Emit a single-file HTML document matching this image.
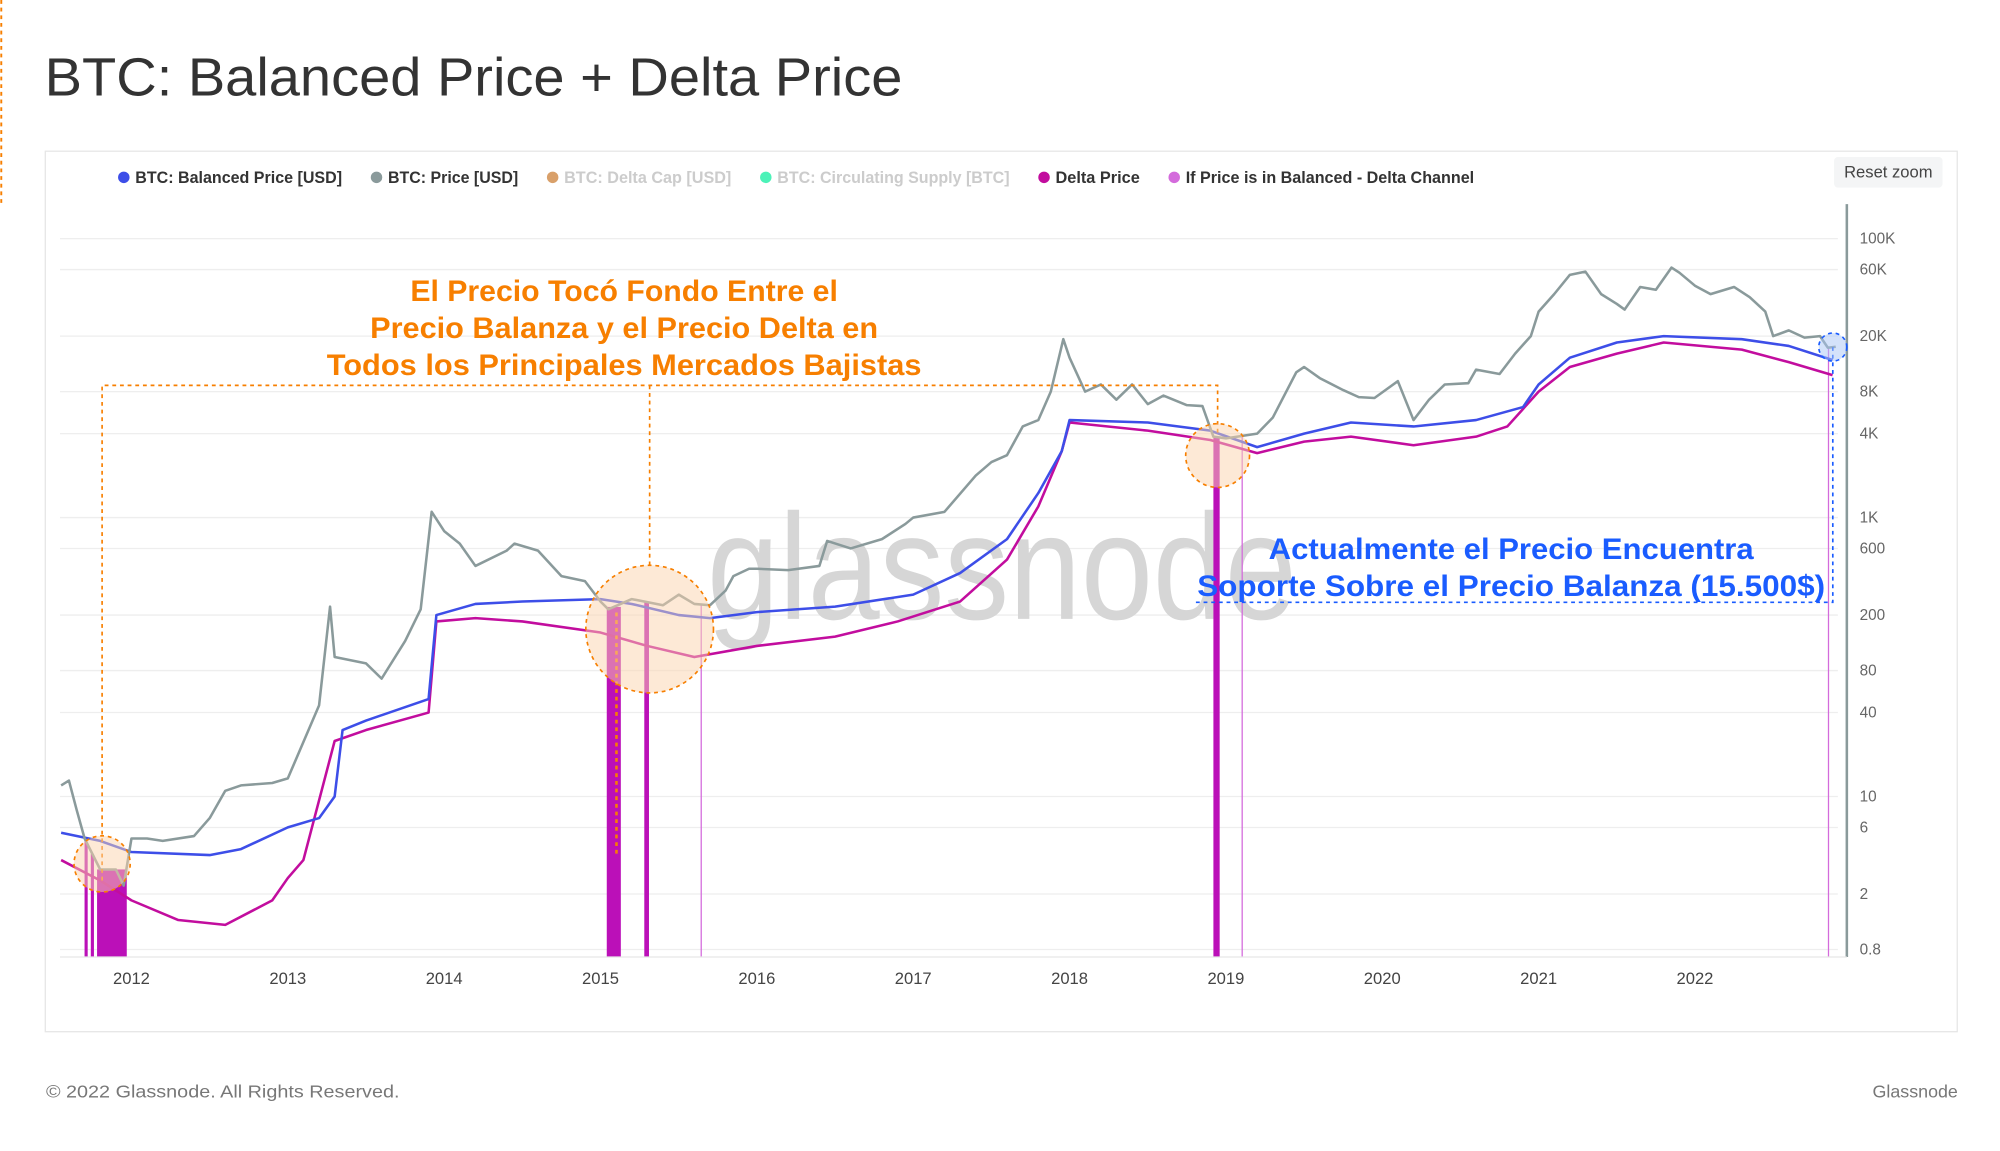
<!DOCTYPE html>
<html><head><meta charset="utf-8"><style>
html,body{margin:0;padding:0;background:#fff;}
svg{display:block;font-family:"Liberation Sans",sans-serif;}
</style></head><body>
<svg id="c" width="2000" height="1151" viewBox="0 0 1567 902" preserveAspectRatio="none" xmlns="http://www.w3.org/2000/svg">
<line x1="1" y1="0" x2="1" y2="160" stroke="#f77f00" stroke-dasharray="3,3" stroke-width="1.5"/>
<text x="35" y="75" font-size="42" fill="#333" textLength="672" lengthAdjust="spacingAndGlyphs">BTC: Balanced Price + Delta Price</text>
<rect x="35.5" y="118.5" width="1498" height="690" fill="#fff" stroke="#e6e6e6"/>
<g font-size="13" font-weight="bold">
<g><circle cx="97" cy="139" r="4.5" fill="#3d4ee8"/><text x="106" y="143.5" fill="#333" textLength="162" lengthAdjust="spacingAndGlyphs">BTC: Balanced Price [USD]</text></g>
<g><circle cx="295" cy="139" r="4.5" fill="#8a9a9b"/><text x="304" y="143.5" fill="#333" textLength="102" lengthAdjust="spacingAndGlyphs">BTC: Price [USD]</text></g>
<g><circle cx="433" cy="139" r="4.5" fill="#d9a06a"/><text x="442" y="143.5" fill="#ccc" textLength="131" lengthAdjust="spacingAndGlyphs">BTC: Delta Cap [USD]</text></g>
<g><circle cx="600" cy="139" r="4.5" fill="#4cf2b8"/><text x="609" y="143.5" fill="#ccc" textLength="182" lengthAdjust="spacingAndGlyphs">BTC: Circulating Supply [BTC]</text></g>
<g><circle cx="818" cy="139" r="4.5" fill="#c20d9e"/><text x="827" y="143.5" fill="#333" textLength="66" lengthAdjust="spacingAndGlyphs">Delta Price</text></g>
<g><circle cx="920" cy="139" r="4.5" fill="#d46bdc"/><text x="929" y="143.5" fill="#333" textLength="226" lengthAdjust="spacingAndGlyphs">If Price is in Balanced - Delta Channel</text></g>
</g>
<g><rect x="1437" y="123" width="85" height="24" rx="3" fill="#f4f5f6"/><text x="1479.5" y="139" font-size="13" fill="#444" text-anchor="middle">Reset zoom</text></g>
<g id="grid"></g>
<text x="785" y="485" font-size="118" fill="#d6d6d6" text-anchor="middle" textLength="462" lengthAdjust="spacingAndGlyphs">glassnode</text>
<g id="bars"></g>
<g id="lines"></g>
<line x1="1447" y1="160" x2="1447" y2="750" stroke="#8a9a9b" stroke-width="2"/>
<line x1="47" y1="750" x2="1447" y2="750" stroke="#e6e6e6" stroke-width="1"/>
<g id="yt" font-size="12" fill="#666"></g>
<g id="xt" font-size="13" fill="#444" text-anchor="middle"></g>
<g fill="none" stroke="#f77f00" stroke-width="1.3" stroke-dasharray="3,3">
<path d="M80,690 V302 H954 V340"/><path d="M509,302 V445"/><path d="M483,480 V670" stroke-width="2"/>
<circle cx="80" cy="677" r="22" fill="#fbd3ae" fill-opacity="0.5"/>
<circle cx="509" cy="493" r="50" fill="#fbd3ae" fill-opacity="0.5"/>
<circle cx="954" cy="357" r="25" fill="#fbd3ae" fill-opacity="0.5"/>
</g>
<g font-size="23" font-weight="bold" fill="#f77f00" text-anchor="middle">
<text x="489" y="236" textLength="335" lengthAdjust="spacingAndGlyphs">El Precio Tocó Fondo Entre el</text>
<text x="489" y="265" textLength="398" lengthAdjust="spacingAndGlyphs">Precio Balanza y el Precio Delta en</text>
<text x="489" y="294" textLength="466" lengthAdjust="spacingAndGlyphs">Todos los Principales Mercados Bajistas</text>
</g>
<g fill="none" stroke="#1a5cff" stroke-width="1.3" stroke-dasharray="3,3">
<path d="M937,472 H1436 V272"/>
<circle cx="1436" cy="272" r="11" fill="#a9c6f5" fill-opacity="0.5"/>
</g>
<g font-size="23" font-weight="bold" fill="#1a5cff" text-anchor="middle">
<text x="1184" y="438" textLength="380" lengthAdjust="spacingAndGlyphs">Actualmente el Precio Encuentra</text>
<text x="1184" y="467" textLength="492" lengthAdjust="spacingAndGlyphs">Soporte Sobre el Precio Balanza (15.500$)</text>
</g>
<text x="36" y="860" font-size="14" fill="#777" textLength="277" lengthAdjust="spacingAndGlyphs">© 2022 Glassnode. All Rights Reserved.</text>
<text x="1534" y="860" font-size="14" fill="#777" text-anchor="end">Glassnode</text>
</svg>
<script>
const priceYears=[2011.55,2011.6,2011.65,2011.7,2011.8,2011.9,2011.95,2012.0,2012.1,2012.2,2012.4,2012.5,2012.6,2012.7,2012.9,2013.0,2013.2,2013.27,2013.3,2013.5,2013.6,2013.75,2013.85,2013.92,2014.0,2014.1,2014.2,2014.4,2014.45,2014.6,2014.75,2014.9,2015.0,2015.05,2015.2,2015.4,2015.5,2015.6,2015.7,2015.8,2015.85,2015.95,2016.0,2016.2,2016.4,2016.45,2016.6,2016.8,2016.95,2017.0,2017.2,2017.4,2017.5,2017.6,2017.7,2017.8,2017.88,2017.96,2018.0,2018.1,2018.2,2018.3,2018.4,2018.5,2018.6,2018.75,2018.85,2018.92,2019.0,2019.2,2019.3,2019.45,2019.5,2019.6,2019.75,2019.85,2019.95,2020.1,2020.2,2020.3,2020.4,2020.55,2020.6,2020.75,2020.85,2020.95,2021.0,2021.1,2021.2,2021.3,2021.4,2021.5,2021.55,2021.65,2021.75,2021.85,2021.9,2022.0,2022.1,2022.25,2022.35,2022.45,2022.5,2022.6,2022.7,2022.8,2022.85,2022.9];
const priceValues=[12,13,8,5,3,3,2.3,5,5,4.8,5.2,7,11,12,12.5,13.5,45,230,100,90,70,130,220,1100,800,650,450,580,650,580,380,350,250,220,260,235,280,240,235,300,380,430,430,420,450,680,600,700,900,1000,1100,2000,2500,2800,4500,5000,8000,19000,14000,8000,9000,7000,9000,6500,7500,6400,6300,3800,3700,4000,5200,11000,12000,10000,8200,7300,7200,9500,5000,7000,9000,9200,11500,10700,15000,20000,30000,40000,55000,58000,40000,34000,31000,45000,43000,62000,57000,46000,40000,45000,38000,30000,20000,22000,19500,20000,16500,16800];
const balancedYears=[2011.55,2011.8,2012.0,2012.5,2012.7,2013.0,2013.2,2013.3,2013.35,2013.5,2013.9,2013.95,2014.2,2014.5,2015.0,2015.2,2015.5,2015.7,2016.0,2016.5,2017.0,2017.3,2017.6,2017.8,2017.95,2018.0,2018.5,2018.9,2019.2,2019.5,2019.8,2020.2,2020.6,2020.9,2021.0,2021.2,2021.5,2021.8,2022.3,2022.6,2022.88];
const balancedValues=[5.5,4.8,4,3.8,4.2,6,7,10,30,35,50,200,240,250,260,240,200,190,210,230,280,400,700,1500,3000,5000,4800,4200,3200,4000,4800,4500,5000,6200,9000,14000,18000,20000,19000,17000,13500];
const deltaYears=[2011.55,2011.8,2012.0,2012.3,2012.6,2012.9,2013.0,2013.1,2013.3,2013.5,2013.9,2013.95,2014.2,2014.5,2015.0,2015.3,2015.6,2016.0,2016.5,2016.9,2017.3,2017.6,2017.8,2017.95,2018.0,2018.5,2018.9,2019.2,2019.5,2019.8,2020.2,2020.6,2020.8,2021.0,2021.2,2021.5,2021.8,2022.3,2022.6,2022.88];
const deltaValues=[3.5,2.5,1.8,1.3,1.2,1.8,2.6,3.5,25,30,40,180,190,180,150,120,100,120,140,180,250,500,1200,3000,4800,4200,3600,2900,3500,3800,3300,3800,4500,8000,12000,15000,18000,16000,13000,10500];
const barStart=[2011.7,2011.74,2011.78,2015.04,2015.28,2015.64,2018.92,2019.1,2022.85];
const barEnd=[2011.72,2011.76,2011.97,2015.13,2015.31,2015.645,2018.96,2019.105,2022.855];
const yTicks=[100000,60000,20000,8000,4000,1000,600,200,80,40,10,6,2,0.8];
const yTickLabels=["100K","60K","20K","8K","4K","1K","600","200","80","40","10","6","2","0.8"];
const xTicks=[2012,2013,2014,2015,2016,2017,2018,2019,2020,2021,2022];

const NS="http://www.w3.org/2000/svg";
const xS=y=>103+(y-2012)*122.5;
const yS=v=>187+(5-Math.log10(v))*109.3;
function mk(t,p,a){const e=document.createElementNS(NS,t);for(const k in a)e.setAttribute(k,a[k]);p.appendChild(e);return e;}
const grid=document.getElementById('grid'),yt=document.getElementById('yt'),xt=document.getElementById('xt');
yTicks.forEach((v,i)=>{
  const g=mk('line',grid,{x1:47,x2:1440,y1:yS(v),y2:yS(v),stroke:'#eeeeee','stroke-width':1});
  
  
  const t=mk('text',yt,{x:1457,y:yS(v)+4});t.textContent=yTickLabels[i];
  
  
});
xTicks.forEach(v=>{
  const t=mk('text',xt,{x:xS(v),y:771});t.textContent=String(v);
  
  
});
function interp(xs,vs,x){if(x<=xs[0])return vs[0];for(let i=1;i<xs.length;i++){if(x<=xs[i]){const f=(x-xs[i-1])/(xs[i]-xs[i-1]);return Math.pow(10,Math.log10(vs[i-1])*(1-f)+Math.log10(vs[i])*f);}}return vs[vs.length-1];}
const bars=document.getElementById('bars');
barStart.forEach((s,i)=>{
  const top=yS(interp(priceYears,priceValues,(s+barEnd[i])/2));
  const w=Math.max(1,xS(barEnd[i])-xS(s));
  const r=mk('rect',bars,{x:xS(s),y:top,width:w,height:750-top,fill:w>2?'#bb10b8':'#d46bdc'});
  
  
});
const lines=document.getElementById('lines');
function line(xs,vs,col,name){
  const d=xs.map((x,i)=>(i?'L':'M')+xS(x).toFixed(1)+','+yS(vs[i]).toFixed(1)).join(' ');
  const p=mk('path',lines,{d:d,fill:'none',stroke:col,'stroke-width':2,'stroke-linejoin':'round'});
  
  
}
line(deltaYears,deltaValues,'#c20d9e','delta-price-line');
line(balancedYears,balancedValues,'#3d4ee8','balanced-price-line');
line(priceYears,priceValues,'#8a9a9b','price-line');
</script>
</body></html>
